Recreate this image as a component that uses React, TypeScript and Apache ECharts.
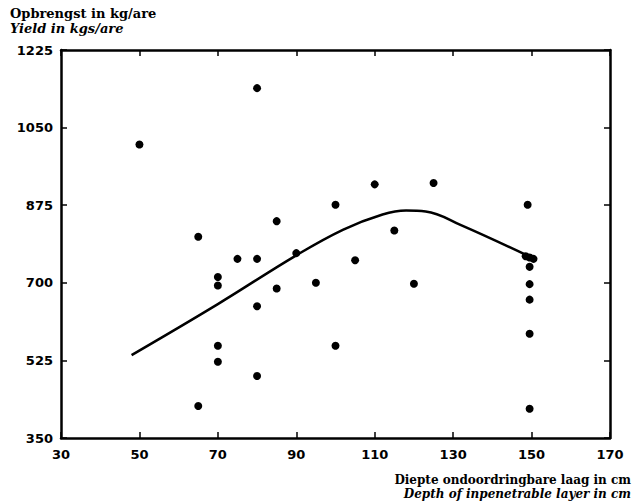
import React, { useEffect, useRef } from "react";
import * as echarts from "echarts";

const xTicks = [30, 50, 70, 90, 110, 130, 150, 170];
const yTicks = [350, 525, 700, 875, 1050, 1225];

const depth = [
  50, 80, 65, 70, 70, 75, 80, 85, 85, 80, 70, 70, 80, 65, 90, 95, 100, 100,
  110, 125, 115, 105, 120, 149, 148.5, 149.5, 150.5, 149.5, 149.5, 149.5, 149.5, 149.5,
];
const yieldVals = [
  1012, 1139, 804, 713, 694, 754, 754, 839, 687, 647, 558, 522, 490, 422, 767, 700, 876, 558,
  922, 925, 818, 751, 698, 876, 760, 757, 754, 736, 697, 662, 585, 416,
];

const curveX = [48, 70, 90, 102, 112, 118, 123, 132, 150];
const curveY = [537, 652, 762, 820, 854, 863, 861, 830, 757];

const serif = "'DejaVu Serif', serif";
const sans = "'DejaVu Sans', sans-serif";

export default function App() {
  const ref = useRef<HTMLDivElement>(null);
  useEffect(() => {
    if (!ref.current) return;
    const chart = echarts.init(ref.current, null, { renderer: "svg" });
    const axisCommon = {
      type: "value" as const,
      splitLine: { show: false },
      axisLine: { show: true, onZero: false, lineStyle: { color: "#000", width: 2.5 } },
      axisTick: { show: true, inside: true, length: 6, lineStyle: { color: "#000", width: 1.5 } },
    };
    const labelStyle = {
      color: "#000",
      fontFamily: sans,
      fontWeight: "bold" as const,
      fontSize: 13,
      formatter: (v: number) => String(v),
    };
    chart.setOption({
      animation: false,
      backgroundColor: "#fff",
      grid: { left: 61, right: 24, top: 50, bottom: 65, containLabel: false },
      xAxis: [
        {
          ...axisCommon,
          position: "bottom",
          min: xTicks[0],
          max: xTicks[xTicks.length - 1],
          interval: 20,
          axisLabel: { ...labelStyle, margin: 10 },
        },
        {
          ...axisCommon,
          position: "top",
          min: xTicks[0],
          max: xTicks[xTicks.length - 1],
          interval: 20,
          axisLabel: { show: false },
        },
      ],
      yAxis: [
        {
          ...axisCommon,
          position: "left",
          min: yTicks[0],
          max: yTicks[yTicks.length - 1],
          interval: 175,
          axisLabel: { ...labelStyle, margin: 8 },
        },
        {
          ...axisCommon,
          position: "right",
          min: yTicks[0],
          max: yTicks[yTicks.length - 1],
          interval: 175,
          axisLabel: { show: false },
        },
      ],
      graphic: [
        {
          type: "text",
          left: 10,
          top: 7,
          style: { text: "Opbrengst in kg/are", font: `bold 13px ${serif}`, fill: "#000" },
        },
        {
          type: "text",
          left: 10,
          top: 22,
          style: { text: "Yield in kgs/are", font: `italic bold 13px ${serif}`, fill: "#000" },
        },
        {
          type: "text",
          right: 3,
          top: 474,
          style: { text: "Diepte ondoordringbare laag in cm", font: `bold 12px ${serif}`, fill: "#000" },
        },
        {
          type: "text",
          right: 3,
          top: 488,
          style: { text: "Depth of inpenetrable layer in cm", font: `italic bold 12px ${serif}`, fill: "#000" },
        },
      ],
      series: [
        {
          type: "line",
          data: curveX.map((x, i) => [x, curveY[i]]),
          smooth: 0.4,
          symbol: "none",
          lineStyle: { color: "#000", width: 2.5 },
          z: 2,
        },
        {
          type: "scatter",
          data: depth.map((x, i) => [x, yieldVals[i]]),
          symbol: "circle",
          symbolSize: 8,
          itemStyle: { color: "#000", opacity: 1 },
          z: 3,
        },
      ],
    });
    return () => chart.dispose();
  }, []);
  return <div ref={ref} style={{ width: 634, height: 503, position: "absolute", left: 0, top: 0 }} />;
}
